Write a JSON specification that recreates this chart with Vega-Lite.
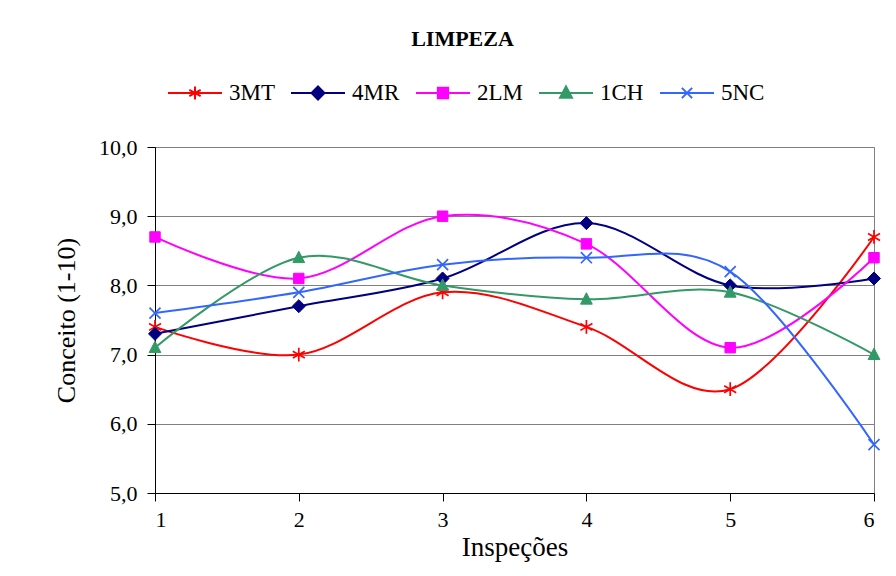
{
  "$schema": "https://vega.github.io/schema/vega-lite/v6.json",
  "width": 719,
  "height": 346,
  "autosize": {"type": "none"},
  "padding": {"left": 155, "top": 147, "right": 22, "bottom": 83},
  "background": "white",
  "title": {"text": "LIMPEZA", "font": "Liberation Serif", "fontSize": 22, "fontWeight": "bold", "color": "black", "anchor": "middle", "dx": -52, "offset": 14},
  "config": {
    "locale": {"number": {"decimal": ",", "thousands": ".", "grouping": [3], "currency": ["R$", ""]}},
    "view": {"stroke": "#808080", "strokeWidth": 1},
    "font": "Liberation Serif"
  },
  "data": {"values": [
    {"x": 1, "series": "3MT", "value": 7.4},
    {"x": 2, "series": "3MT", "value": 7.0},
    {"x": 3, "series": "3MT", "value": 7.9},
    {"x": 4, "series": "3MT", "value": 7.4},
    {"x": 5, "series": "3MT", "value": 6.5},
    {"x": 6, "series": "3MT", "value": 8.7},
    {"x": 1, "series": "4MR", "value": 7.3},
    {"x": 2, "series": "4MR", "value": 7.7},
    {"x": 3, "series": "4MR", "value": 8.1},
    {"x": 4, "series": "4MR", "value": 8.9},
    {"x": 5, "series": "4MR", "value": 8.0},
    {"x": 6, "series": "4MR", "value": 8.1},
    {"x": 1, "series": "2LM", "value": 8.7},
    {"x": 2, "series": "2LM", "value": 8.1},
    {"x": 3, "series": "2LM", "value": 9.0},
    {"x": 4, "series": "2LM", "value": 8.6},
    {"x": 5, "series": "2LM", "value": 7.1},
    {"x": 6, "series": "2LM", "value": 8.4},
    {"x": 1, "series": "1CH", "value": 7.1},
    {"x": 2, "series": "1CH", "value": 8.4},
    {"x": 3, "series": "1CH", "value": 8.0},
    {"x": 4, "series": "1CH", "value": 7.8},
    {"x": 5, "series": "1CH", "value": 7.9},
    {"x": 6, "series": "1CH", "value": 7.0},
    {"x": 1, "series": "5NC", "value": 7.6},
    {"x": 2, "series": "5NC", "value": 7.9},
    {"x": 3, "series": "5NC", "value": 8.3},
    {"x": 4, "series": "5NC", "value": 8.4},
    {"x": 5, "series": "5NC", "value": 8.2},
    {"x": 6, "series": "5NC", "value": 5.7}
  ]},
  "encoding": {
    "x": {
      "field": "x", "type": "quantitative",
      "scale": {"domain": [1, 6], "nice": false, "zero": false},
      "axis": {
        "title": "Inspeções", "values": [1, 2, 3, 4, 5, 6], "format": "d", "grid": false,
        "domainColor": "black", "tickColor": "black", "tickSize": 8,
        "labelFont": "Liberation Serif", "labelFontSize": 22, "labelColor": "black", "labelPadding": 8,
        "titleFont": "Liberation Serif", "titleFontSize": 27, "titleFontWeight": "normal", "titleColor": "black", "titlePadding": 4
      }
    },
    "y": {
      "field": "value", "type": "quantitative",
      "scale": {"domain": [5, 10], "nice": false, "zero": false},
      "axis": {
        "title": "Conceito (1-10)", "values": [5, 6, 7, 8, 9, 10], "format": ".1f",
        "grid": true, "gridColor": "#808080", "gridWidth": 1,
        "domainColor": "black", "tickColor": "black", "tickSize": 8,
        "labelFont": "Liberation Serif", "labelFontSize": 22, "labelColor": "black", "labelPadding": 10,
        "titleFont": "Liberation Serif", "titleFontSize": 26, "titleFontWeight": "normal", "titleColor": "black", "titlePadding": 19
      }
    }
  },
  "layer": [
    {
      "mark": {"type": "line", "interpolate": "cardinal", "strokeWidth": 2},
      "encoding": {
        "color": {
          "field": "series", "type": "nominal",
          "scale": {"domain": ["3MT", "4MR", "2LM", "1CH", "5NC"], "range": ["#FF0000", "#000080", "#FF00FF", "#339966", "#3366FF"]},
          "legend": {
            "orient": "none", "legendX": 12, "legendY": -82, "direction": "horizontal", "columns": 5,
            "title": null, "symbolSize": 2916, "symbolStrokeWidth": 2,
            "labelFont": "Liberation Serif", "labelFontSize": 23, "labelColor": "black", "labelOffset": 6,
            "columnPadding": 12,
            "encode": {"symbols": {"update": {
              "shape": {"signal": "datum.value === '3MT' ? 'M-1,0L1,0M0,-0.24L0,0.24M-0.21,-0.12L0.21,0.12M-0.21,0.12L0.21,-0.12' : datum.value === '4MR' ? 'M-1,0L1,0M0,-0.24L0.24,0L0,0.24L-0.24,0Z' : datum.value === '2LM' ? 'M-1,0L1,0M-0.19,-0.19L0.19,-0.19L0.19,0.19L-0.19,0.19Z' : datum.value === '1CH' ? 'M-1,0L1,0M0,-0.24L0.22,0.18L-0.22,0.18Z' : 'M-1,0L1,0M-0.19,-0.19L0.19,0.19M-0.19,0.19L0.19,-0.19'"},
              "fill": {"signal": "scale('color', datum.value)"},
              "stroke": {"signal": "scale('color', datum.value)"},
              "strokeWidth": {"value": 2},
              "opacity": {"value": 1}
            }}}
          }
        }
      }
    },
    {
      "transform": [{"filter": "datum.series === '3MT'"}],
      "mark": {"type": "point", "shape": "M0,-1L0,1M-0.87,-0.5L0.87,0.5M-0.87,0.5L0.87,-0.5", "size": 190, "strokeWidth": 1.7, "filled": false, "stroke": "#FF0000", "opacity": 1}
    },
    {
      "transform": [{"filter": "datum.series === '4MR'"}],
      "mark": {"type": "point", "shape": "M0,-1L1,0L0,1L-1,0Z", "size": 170, "strokeWidth": 1, "filled": true, "fill": "#000080", "stroke": "#000080", "opacity": 1}
    },
    {
      "transform": [{"filter": "datum.series === '2LM'"}],
      "mark": {"type": "point", "shape": "M-0.8,-0.8L0.8,-0.8L0.8,0.8L-0.8,0.8Z", "size": 170, "strokeWidth": 1, "filled": true, "fill": "#FF00FF", "stroke": "#FF00FF", "opacity": 1}
    },
    {
      "transform": [{"filter": "datum.series === '1CH'"}],
      "mark": {"type": "point", "shape": "M0,-1L0.9,0.75L-0.9,0.75Z", "size": 170, "strokeWidth": 1, "filled": true, "fill": "#339966", "stroke": "#339966", "opacity": 1}
    },
    {
      "transform": [{"filter": "datum.series === '5NC'"}],
      "mark": {"type": "point", "shape": "M-0.8,-0.8L0.8,0.8M-0.8,0.8L0.8,-0.8", "size": 190, "strokeWidth": 1.7, "filled": false, "stroke": "#3366FF", "opacity": 1}
    }
  ]
}
